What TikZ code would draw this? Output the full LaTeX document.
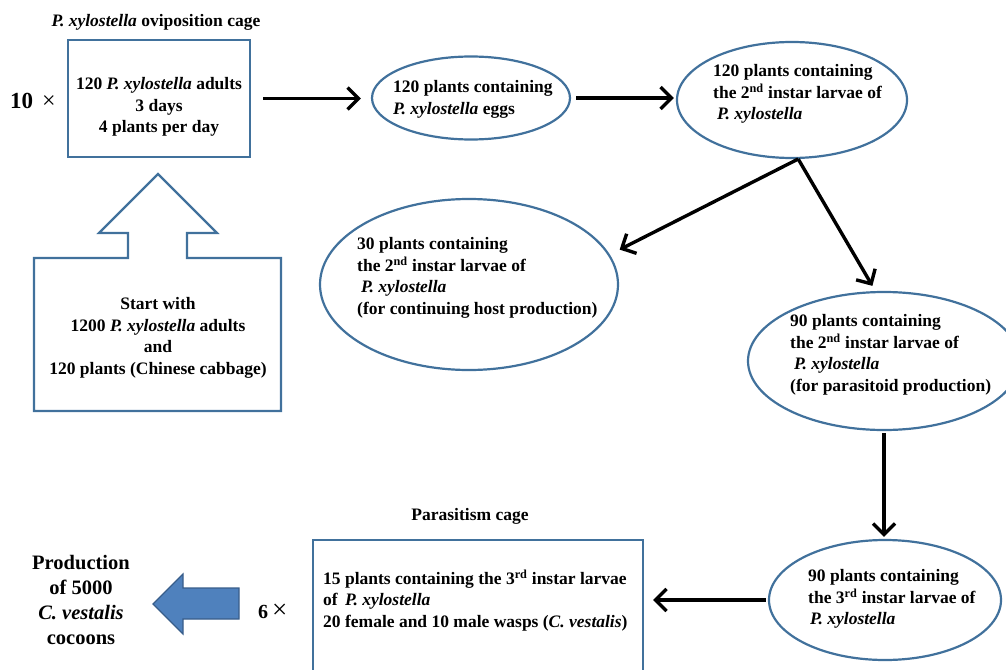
\documentclass[tikz,border=0pt]{standalone}
\usepackage{fontspec}
\setmainfont{Liberation Serif}
\usetikzlibrary{shapes.geometric,arrows.meta,calc}
\definecolor{bord}{RGB}{65,113,156}
\definecolor{fillb}{RGB}{79,129,189}
\definecolor{fillbd}{RGB}{56,93,138}
\begin{document}
\begin{tikzpicture}[x=1pt,y=-1pt,
  every node/.style={font=\fontsize{17.5}{21.5}\selectfont\bfseries},
  oval/.style={ellipse, draw=bord, line width=2.2pt, inner sep=0pt},
  cage/.style={rectangle, draw=bord, line width=2.2pt, inner sep=0pt},
  txt/.style={anchor=north west, align=left, inner sep=0pt},
  ctxt/.style={anchor=north, align=center, inner sep=0pt},
  arr/.style={line width=3.4pt, line join=round, -{Straight Barb[length=11pt,width=22pt]}}]
\useasboundingbox (0,0) rectangle (1006,669);

% top row
\node[inner sep=0pt, anchor=base] (title) at (156,27) {\textit{P. xylostella} oviposition cage};
\node[cage, minimum width=182pt, minimum height=117pt] (b1) at (159,98.5) {};
\node[ctxt] (t1) at (159,77.5) {120 \textit{P. xylostella} adults\\3 days\\4 plants per day};
\node[inner sep=0pt, anchor=base west] (ten) at (10,108) {{\fontsize{23}{23}\selectfont 10}\hspace{9pt}{\fontsize{24}{24}\selectfont\mdseries ×}};

\node[oval, minimum width=198pt, minimum height=83pt] (e1) at (471,98) {};
\node[txt] (te1) at (393,80.5) {120 plants containing\\\textit{P. xylostella} eggs};

\node[oval, minimum width=230pt, minimum height=116pt] (e2) at (792,100) {};
\node[txt] (te2) at (713,64.5) {120 plants containing\\the 2\textsuperscript{nd} instar larvae of\\\hspace{4pt}\textit{P. xylostella}};

% middle
\node[oval, minimum width=298pt, minimum height=171pt] (e3) at (469,284.5) {};
\node[txt] (te3) at (357,237.5) {30 plants containing\\the 2\textsuperscript{nd} instar larvae of\\\hspace{4pt}\textit{P. xylostella}\\(for continuing host production)};

\node[oval, minimum width=272pt, minimum height=138pt] (e4) at (884,361) {};
\node[txt] (te4) at (790,314.5) {90 plants containing\\the 2\textsuperscript{nd} instar larvae of\\\hspace{4pt}\textit{P. xylostella}\\(for parasitoid production)};

% start shape
\draw[bord, line width=2.2pt, line join=miter]
  (158,174) -- (217,233) -- (187,233) -- (187,258) -- (281,258) -- (281,411)
  -- (34,411) -- (34,258) -- (128,258) -- (128,233) -- (99,233) -- cycle;
\node[ctxt] (ts) at (158,297.5) {Start with\\1200 \textit{P. xylostella} adults\\and\\120 plants (Chinese cabbage)};

% bottom row
\node[oval, minimum width=232pt, minimum height=120pt] (e5) at (885,600) {};
\node[txt] (te5) at (808,569.5) {90 plants containing\\the 3\textsuperscript{rd} instar larvae of\\\hspace{2pt}\textit{P. xylostella}};

\node[inner sep=0pt, anchor=base] (pc) at (470,520) {Parasitism cage};
\node[cage, minimum width=330pt, minimum height=160pt] (b2) at (478,620) {};
\node[txt] (tb2) at (323,569.5) {15 plants containing the 3\textsuperscript{rd} instar larvae\\of \hspace{3pt}\textit{P. xylostella}\\20 female and 10 male wasps (\textit{C. vestalis})};

\node[inner sep=0pt, anchor=base west] (six) at (258,618) {{\fontsize{20}{20}\selectfont 6}\hspace{4pt}{\fontsize{27}{27}\selectfont\mdseries ×}};

\draw[fill=fillb, draw=fillbd, line width=1.2pt, line join=miter]
  (153,604) -- (183,574) -- (183,588) -- (239,588) -- (239,619) -- (183,619) -- (183,634) -- cycle;

\node[ctxt, font=\fontsize{20.5}{25}\selectfont\bfseries] (prod) at (81,555.5) {Production\\of 5000\\\textit{C. vestalis}\\cocoons};

% connectors
\draw[arr, shorten <=12pt, shorten >=10pt] (b1.east) -- (b1.east -| e1.west);
\draw[arr, shorten <=5pt, shorten >=2pt] (e1.east) -- (e1.east -| e2.west);
\draw[arr, shorten >=11pt] (e2.276) -- (e3.12);
\draw[arr, shorten >=6pt] (e2.276) -- (e4.97);
\draw[arr, shorten <=2pt, shorten >=2pt] (e4.south) -- (e4.south |- e5.north);
\draw[arr, shorten <=2pt, shorten >=9pt] (e5.west) -- (e5.west -| b2.east);
\end{tikzpicture}
\end{document}
